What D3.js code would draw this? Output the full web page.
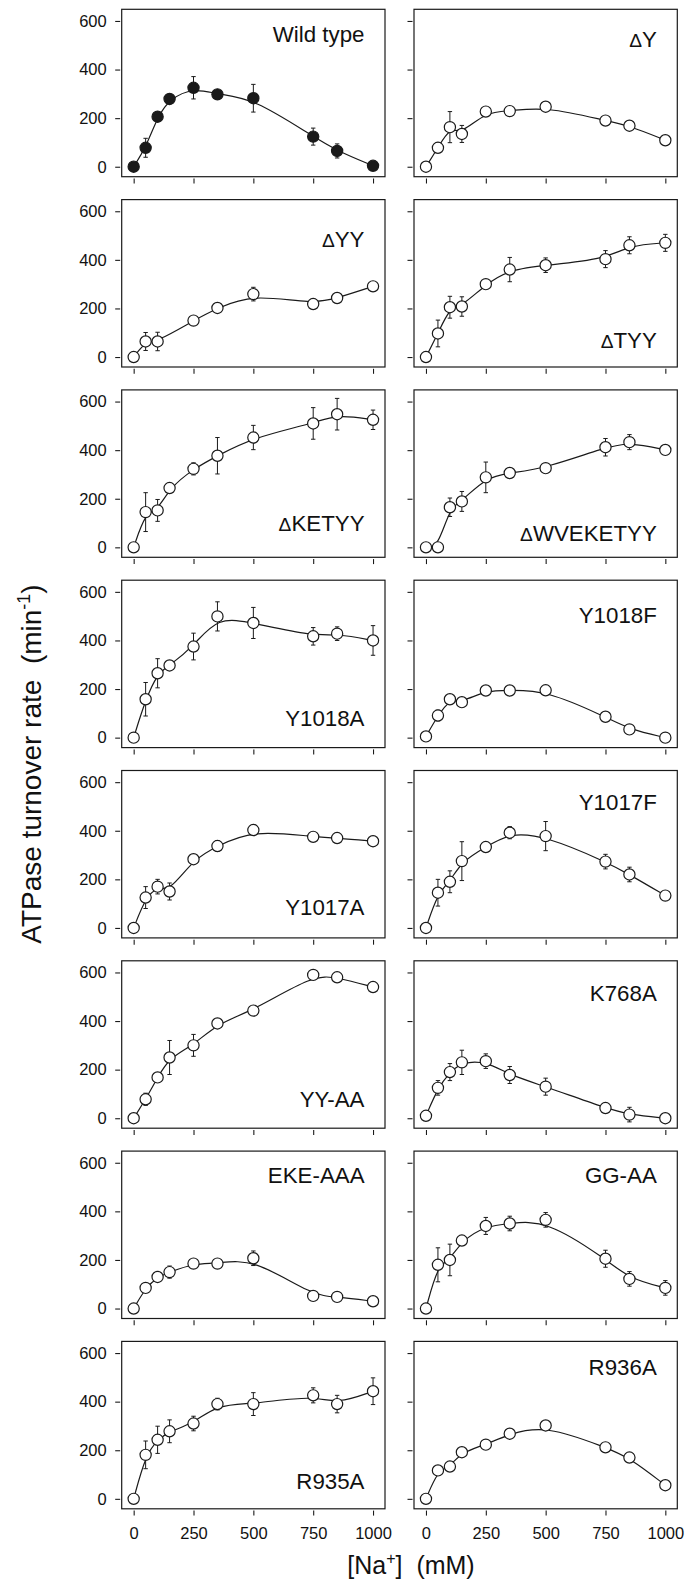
<!DOCTYPE html>
<html>
<head>
<meta charset="utf-8">
<script src="https://cdn.jsdelivr.net/npm/d3@7"></script>
<style>
  body { margin: 0; background: #fff; }
  svg { display: block; }
  text { font-family: "Liberation Sans", Arial, sans-serif; fill: #111; white-space: pre; }
</style>
</head>
<body>
<svg id="fig" width="694" height="1582"></svg>
<script>
// Na+ concentrations (mM) at which ATPase activity was measured
const conc = [0, 50, 100, 150, 250, 350, 500, 750, 850, 1000];
const xTicks = [0, 250, 500, 750, 1000];
const yTicks = [0, 200, 400, 600];

const panelLabels = ["Wild type", "ΔY", "ΔYY", "ΔTYY", "ΔKETYY", "ΔWVEKETYY",
  "Y1018A", "Y1018F", "Y1017A", "Y1017F", "YY-AA", "K768A",
  "EKE-AAA", "GG-AA", "R935A", "R936A"];

// turnover rates (min^-1) and their error bars; null = not measured
const wildType     = [0, 78, 206, 279, 325, 298, 282, 124, 65, 4];
const wildTypeErr  = [0, 39, 8, 0, 46, 0, 57, 35, 29, 0];
const dY           = [0, 78, 163, 135, 227, 229, 247, 190, 169, 109];
const dYErr        = [0, 20, 64, 35, 0, 0, 0, 0, 0, 0];
const dYY          = [0, 64, 64, null, 150, 202, 259, 218, 243, 291];
const dYYErr       = [0, 37, 38, null, 0, 0, 28, 0, 0, 0];
const dTYY         = [0, 97, 205, 208, 300, 360, 378, 403, 460, 470];
const dTYYErr      = [0, 55, 45, 40, 15, 50, 30, 35, 35, 35];
const dKETYY       = [0, 145, 152, 244, 323, 377, 452, 510, 548, 525];
const dKETYYErr    = [0, 80, 45, 0, 25, 75, 50, 65, 65, 40];
const dWVEKETYY    = [0, 0, 165, 189, 288, 306, 326, 412, 433, 401];
const dWVEKETYYErr = [0, 0, 38, 41, 63, 0, 0, 36, 31, 0];
const y1018A       = [0, 158, 265, 297, 375, 499, 472, 417, 428, 400];
const y1018AErr    = [0, 69, 60, 18, 55, 60, 64, 36, 28, 61];
const y1018F       = [5, 91, 158, 146, 194, 194, 195, 86, 34, 0];
const y1018FErr    = [0, 22, 0, 0, 0, 0, 0, 0, 0, 0];
const y1017A       = [0, 125, 170, 150, 283, 337, 403, 375, 370, 357];
const y1017AErr    = [0, 45, 30, 35, 10, 22, 0, 12, 12, 20];
const y1017F       = [0, 145, 190, 275, 333, 392, 378, 273, 220, 133];
const y1017FErr    = [0, 55, 45, 80, 0, 25, 60, 30, 30, 0];
const yyAA         = [0, 78, 168, 250, 300, 390, 443, 590, 580, 540];
const yyAAErr      = [0, 25, 20, 70, 45, 0, 0, 15, 0, 0];
const k768A        = [10, 125, 190, 230, 235, 178, 130, 42, 15, 0];
const k768AErr     = [15, 30, 35, 50, 30, 35, 35, 0, 30, 0];
const ekeAAA       = [0, 85, 130, 150, 185, 185, 207, 52, 48, 30];
const ekeAAAErr    = [0, 0, 0, 25, 0, 0, 30, 0, 0, 0];
const ggAA         = [0, 180, 200, 280, 340, 350, 365, 205, 122, 85];
const ggAAErr      = [0, 70, 65, 0, 35, 30, 30, 35, 30, 30];
const r935A        = [0, 181, 243, 278, 310, 390, 390, 426, 390, 443];
const r935AErr     = [0, 57, 56, 47, 30, 24, 47, 31, 36, 55];
const r936A        = [0, 117, 133, 192, 223, 268, 302, 212, 170, 56];
const r936AErr     = [0, 0, 0, 0, 0, 0, 0, 0, 0, 0];

const seriesValues = [wildType, dY, dYY, dTYY, dKETYY, dWVEKETYY, y1018A, y1018F,
  y1017A, y1017F, yyAA, k768A, ekeAAA, ggAA, r935A, r936A];
const seriesErrors = [wildTypeErr, dYErr, dYYErr, dTYYErr, dKETYYErr, dWVEKETYYErr,
  y1018AErr, y1018FErr, y1017AErr, y1017FErr, yyAAErr, k768AErr, ekeAAAErr,
  ggAAErr, r935AErr, r936AErr];

// ---- layout ----
const colLeft = [121.7, 414];
const frameW = 263.3, frameH = 167.4;
const rowTop0 = 9.3, rowStep = 190.3;
// where each panel's name sits: edge of the frame and baseline distance from it
const labelEdge = ["top", "top", "top", "bottom", "bottom", "bottom", "bottom", "top",
  "bottom", "top", "bottom", "top", "top", "top", "bottom", "top"];
const labelGap = [32.4, 37.4, 47.4, 19, 26, 16.7, 21.7, 42.4, 23, 39, 21, 40, 32, 32, 20, 34];

const ink = "#1a1a1a";
const tickFont = 16.5;
const svg = d3.select("#fig");

// panel name; a leading Δ is set a little smaller, as in the symbol font
function writeLabel(sel, label) {
  if (label.startsWith("Δ")) {
    sel.append("tspan").attr("font-size", "0.86em").text("Δ");
    sel.append("tspan").text(label.slice(1));
  } else {
    sel.text(label);
  }
}

seriesValues.forEach((vals, i) => {
  const col = i % 2, row = Math.floor(i / 2);
  const left = colLeft[col], top = rowTop0 + row * rowStep;
  const x = d3.scaleLinear().domain([-50, 1050]).range([left, left + frameW]);
  const y = d3.scaleLinear().domain([-41, 648]).range([top + frameH, top]);
  const g = svg.append("g");
  const errs = seriesErrors[i];
  const pts = conc.map((c, k) => ({c, v: vals[k], e: errs[k]})).filter(d => d.v != null);

  // frame
  g.append("rect").attr("x", left).attr("y", top).attr("width", frameW).attr("height", frameH)
    .attr("fill", "none").attr("stroke", ink).attr("stroke-width", 1.2);

  // y ticks (outside the frame, slightly offset)
  const yAxis = d3.axisLeft(y).tickValues(yTicks).tickSize(5).tickPadding(8.5)
    .tickFormat(col === 0 ? d3.format("d") : () => "");
  const ya = g.append("g").attr("transform", `translate(${left - 1.5},0)`).call(yAxis);
  ya.select(".domain").remove();
  ya.selectAll("line").attr("stroke", ink).attr("stroke-width", 1.1);
  ya.selectAll("text").attr("font-size", tickFont)
    .attr("font-family", "Liberation Sans, Arial, sans-serif").attr("fill", ink);

  // x ticks
  const xAxis = d3.axisBottom(x).tickValues(xTicks).tickSize(5).tickPadding(12)
    .tickFormat(row === 7 ? d3.format("d") : () => "");
  const xa = g.append("g").attr("transform", `translate(0,${top + frameH + 1.8})`).call(xAxis);
  xa.select(".domain").remove();
  xa.selectAll("line").attr("stroke", ink).attr("stroke-width", 1.1);
  xa.selectAll("text").attr("font-size", tickFont)
    .attr("font-family", "Liberation Sans, Arial, sans-serif").attr("fill", ink);

  // smooth curve through the measurements
  const line = d3.line().x(d => x(d.c)).y(d => y(d.v)).curve(d3.curveBasis);
  g.append("path").datum(pts).attr("d", line).attr("fill", "none")
    .attr("stroke", ink).attr("stroke-width", 1.2);

  // error bars
  const eb = g.selectAll(".eb").data(pts.filter(d => d.e > 0)).join("g");
  eb.append("line").attr("x1", d => x(d.c)).attr("x2", d => x(d.c))
    .attr("y1", d => y(d.v + d.e)).attr("y2", d => y(d.v - d.e))
    .attr("stroke", ink).attr("stroke-width", 1);
  [1, -1].forEach(s => {
    eb.append("line").attr("x1", d => x(d.c) - 2.2).attr("x2", d => x(d.c) + 2.2)
      .attr("y1", d => y(d.v + s * d.e)).attr("y2", d => y(d.v + s * d.e))
      .attr("stroke", ink).attr("stroke-width", 1);
  });

  // markers
  g.selectAll("circle").data(pts).join("circle")
    .attr("cx", d => x(d.c)).attr("cy", d => y(d.v)).attr("r", 5.6)
    .attr("fill", i === 0 ? ink : "#fff").attr("stroke", ink).attr("stroke-width", 1.2);

  // panel name
  const ly = labelEdge[i] === "top" ? top + labelGap[i] : top + frameH - labelGap[i];
  const t = g.append("text").attr("x", left + frameW - 20.5).attr("y", ly)
    .attr("text-anchor", "end").attr("font-size", 22.3);
  writeLabel(t, panelLabels[i]);
});

// axis titles
const yTitle = svg.append("text")
  .attr("transform", "translate(41,764) rotate(-90)")
  .attr("text-anchor", "middle").attr("font-size", 28);
yTitle.append("tspan").text("ATPase turnover rate  (min");
yTitle.append("tspan").attr("font-size", 18).attr("dy", -11.5).text("-1");
yTitle.append("tspan").attr("dy", 11.5).text(")");

const xTitle = svg.append("text")
  .attr("x", 411).attr("y", 1574)
  .attr("text-anchor", "middle").attr("font-size", 25);
xTitle.append("tspan").text("[Na");
xTitle.append("tspan").attr("font-size", 16).attr("dy", -10).text("+");
xTitle.append("tspan").attr("dy", 10).text("]  (mM)");
</script>
</body>
</html>
